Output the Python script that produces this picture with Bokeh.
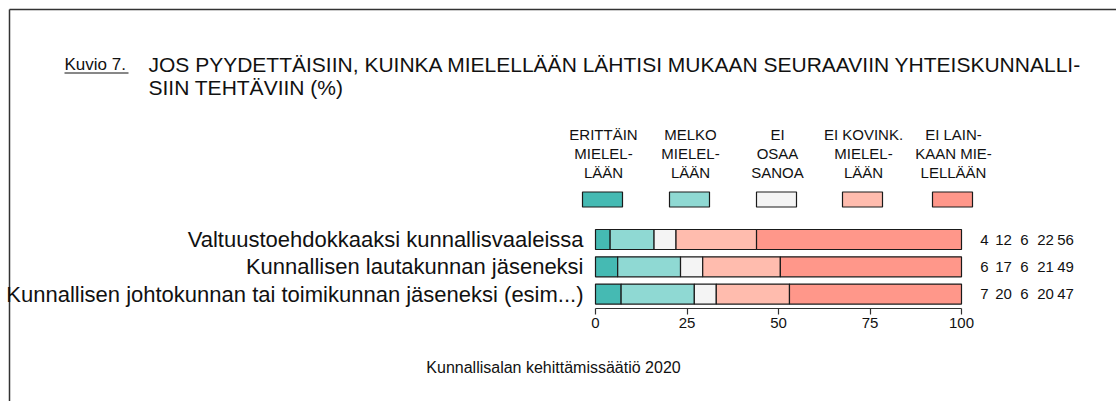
import numpy as np
from bokeh.plotting import figure
from bokeh.models import Range1d, LinearAxis, FixedTicker
from bokeh.core.properties import value
from bokeh.embed import file_html
from bokeh.resources import INLINE

# ---- data ----
categories = [
    "Valtuustoehdokkaaksi kunnallisvaaleissa",
    "Kunnallisen lautakunnan jäseneksi",
    "Kunnallisen johtokunnan tai toimikunnan jäseneksi (esim...)",
]
erittain = [4, 6, 7]
melko = [12, 17, 20]
ei_osaa = [6, 6, 6]
ei_kovink = [22, 21, 20]
ei_lainkaan = [56, 49, 47]
series_labels = ["ERITTÄIN\nMIELEL-\nLÄÄN", "MELKO\nMIELEL-\nLÄÄN", "EI\nOSAA\nSANOA",
                 "EI KOVINK.\nMIELEL-\nLÄÄN", "EI LAIN-\nKAAN MIE-\nLELLÄÄN"]
colors = ["#45bab3", "#8fd9d3", "#f4f4f4", "#ffbcae", "#ff978a"]
ticks = [0, 25, 50, 75, 100]
kuvio = "Kuvio 7."
title_lines = ["JOS PYYDETTÄISIIN, KUINKA MIELELLÄÄN LÄHTISI MUKAAN SEURAAVIIN YHTEISKUNNALLI-",
               "SIIN TEHTÄVIIN (%)"]
footer = "Kunnallisalan kehittämissäätiö 2020"

FONT = "Liberation Sans"
W, H = 1116, 401
PX0, PX100 = 595.0, 961.0
S = (PX100 - PX0) / 100.0


def px(x):
    return (x - PX0) / S


p = figure(width=W, height=H, output_backend="svg", toolbar_location=None,
           x_range=Range1d(px(0), px(W)), y_range=Range1d(H, 0),
           x_axis_type=None, y_axis_type=None, min_border=0)
p.outline_line_color = None
p.background_fill_color = "white"
p.border_fill_color = "white"

# frame lines
p.segment(x0=[px(9), px(9)], y0=[9, 9], x1=[px(W + 10), px(9)], y1=[9, H + 10],
          line_color="#333333", line_width=1.5)

# title
p.text(x=[px(64)], y=[64], text=[kuvio], text_font=value(FONT), text_font_size="17px",
       text_baseline="middle", text_color="#111111")
p.segment(x0=[px(64)], y0=[72.5], x1=[px(128)], y1=[72.5], line_color="#111111", line_width=1)
p.text(x=[px(148)] * 2, y=[64, 87], text=title_lines, text_font=value(FONT),
       text_font_size="21px", text_baseline="middle", text_color="#111111")

# bars (each row drawn as shares of its total)
series = [erittain, melko, ei_osaa, ei_kovink, ei_lainkaan]
arr = np.array(series, dtype=float)
shares = arr / arr.sum(axis=0) * 100.0
cum = np.cumsum(shares, axis=0)
row_y = [239 + i * 27.3 for i in range(len(categories))]
for k in range(len(series)):
    left = cum[k] - shares[k]
    p.hbar(y=row_y, left=left, right=cum[k], height=20, fill_color=colors[k],
           line_color="#1a1a1a", line_width=1.2)

# category labels
p.text(x=[px(583)] * len(categories), y=row_y, text=categories, text_font=value(FONT),
       text_font_size="22px", text_align="right", text_baseline="middle", text_color="#111111")

# value numbers at right
num_x = [984, 1003, 1024, 1045, 1065]
xs, ys, ts = [], [], []
for i in range(len(categories)):
    for k in range(len(series)):
        xs.append(px(num_x[k]))
        ys.append(row_y[i])
        ts.append(str(series[k][i]))
p.text(x=xs, y=ys, text=ts, text_font=value(FONT), text_font_size="15px",
       text_align="center", text_baseline="middle", text_color="#111111")

# legend
leg_x = [602, 689, 776, 862, 952]
p.rect(x=[px(v) for v in leg_x], y=[199] * 5, width=40 / S, height=15,
       fill_color=colors, line_color="#1a1a1a", line_width=1.2)
lx, ly, lt = [], [], []
for k, lab in enumerate(series_labels):
    for j, line in enumerate(lab.split("\n")):
        lx.append(px(leg_x[k] + 1))
        ly.append(134 + j * 19)
        lt.append(line)
p.text(x=lx, y=ly, text=lt, text_font=value(FONT), text_font_size="15px",
       text_align="center", text_baseline="middle", text_color="#111111")

# footer
p.text(x=[px(553)], y=[367], text=[footer], text_font=value(FONT), text_font_size="16px",
       text_align="center", text_baseline="middle", text_color="#111111")

# axis
ax = LinearAxis(ticker=FixedTicker(ticks=ticks), bounds=(0, 100), fixed_location=308)
ax.axis_line_color = "#333333"
ax.axis_line_width = 1.2
ax.major_tick_line_color = "#333333"
ax.major_tick_line_width = 1.2
ax.major_tick_out = 6
ax.major_tick_in = 0
ax.minor_tick_line_color = None
ax.major_label_text_font = FONT
ax.major_label_text_font_size = "15px"
ax.major_label_text_color = "#111111"
ax.major_label_standoff = 3
p.add_layout(ax, "below")

open("out.html", "w").write(file_html(p, INLINE))
